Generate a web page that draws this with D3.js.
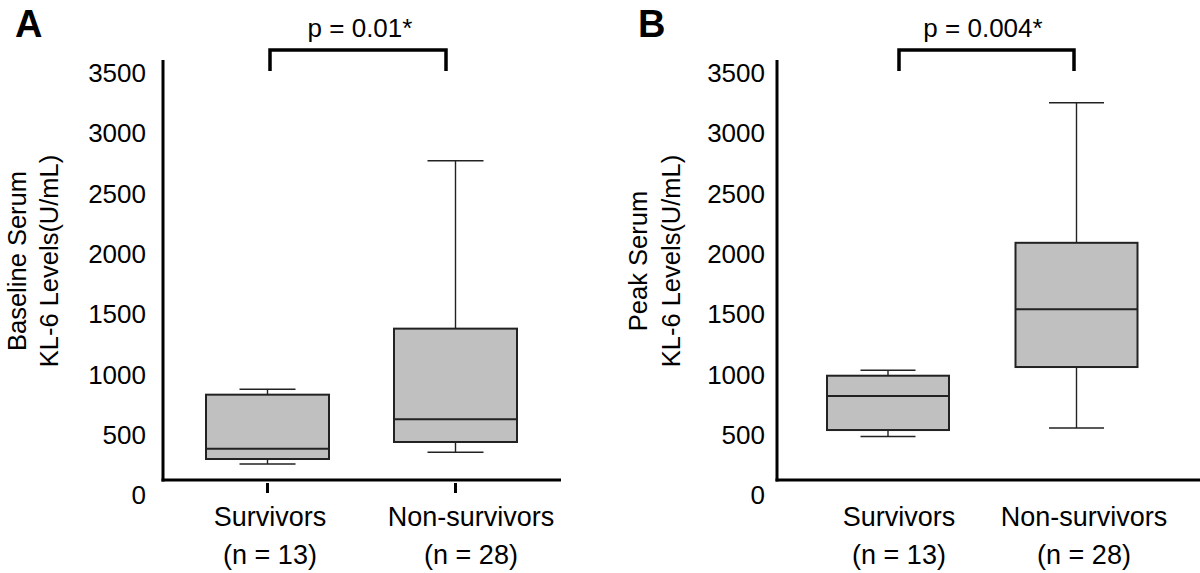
<!DOCTYPE html>
<html>
<head>
<meta charset="utf-8">
<script src="https://cdn.jsdelivr.net/npm/d3@7"></script>
<style>
  html, body { margin: 0; padding: 0; background: #fff; }
  svg { display: block; }
  text { font-family: "Liberation Sans", Arial, Helvetica, sans-serif; fill: #000; }
</style>
</head>
<body>
<svg id="chart" width="1200" height="573"></svg>
<script>
// ---------------- data ----------------
const categories = ["Survivors", "Non-survivors"];
const nLabels = ["(n = 13)", "(n = 28)"];
const yTicks = [0, 500, 1000, 1500, 2000, 2500, 3000, 3500];

// Panel A: baseline serum KL-6 (U/mL)
const baselineMin    = [253, 350];
const baselineQ1     = [294, 435];
const baselineMedian = [379, 623];
const baselineQ3     = [827, 1374];
const baselineMax    = [872, 2765];

// Panel B: peak serum KL-6 (U/mL)
const peakMin    = [480, 551];
const peakQ1     = [534, 1056];
const peakMedian = [816, 1534];
const peakQ3     = [984, 2085];
const peakMax    = [1029, 3245];

const panelLetters = ["A", "B"];
const pValues = ["p = 0.01*", "p = 0.004*"];
const yTitles = [["Baseline Serum", "KL-6 Levels(U/mL)"], ["Peak Serum", "KL-6 Levels(U/mL)"]];

// ---------------- layout ----------------
const svg = d3.select("#chart");
const y = d3.scaleLinear().domain([0, 3500]).range([494.5, 72]);
const frameTop = 60, frameBottom = 480;

const panels = [
  { letter: panelLetters[0], p: pValues[0], title: yTitles[0],
    min: baselineMin, q1: baselineQ1, med: baselineMedian, q3: baselineQ3, max: baselineMax,
    axisX: 163, axisEnd: 561, tickLabelX: 146, range: [267.5, 455.5], boxW: 123, capW: 56,
    bracketOff: [2.5, -9.5], pX: 360, letterX: 15, titleX: [26, 58], labelOff: [2.5, 15.5], ticks: true },
  { letter: panelLetters[1], p: pValues[1], title: yTitles[1],
    min: peakMin, q1: peakQ1, med: peakMedian, q3: peakQ3, max: peakMax,
    axisX: 777, axisEnd: 1200, tickLabelX: 765, range: [888, 1076.5], boxW: 122, capW: 55,
    bracketOff: [11, -2.5], pX: 983, letterX: 638, titleX: [647, 680], labelOff: [11, 7.5], ticks: false }
];

panels.forEach(P => {
  const g = svg.append("g");
  const x = d3.scalePoint().domain(categories).range(P.range);

  // panel letter
  g.append("text").attr("x", P.letterX).attr("y", 37)
    .attr("font-size", 38).attr("font-weight", "bold").text(P.letter);

  // y tick labels via axis
  const ax = g.append("g").attr("transform", `translate(${P.tickLabelX},0)`)
    .call(d3.axisLeft(y).tickValues(yTicks).tickSize(0).tickPadding(0).tickFormat(d3.format("d")));
  ax.select(".domain").remove();
  ax.selectAll("text").attr("font-size", 26).attr("font-family", "'Liberation Sans', Arial, sans-serif")
    .attr("fill", "#000").attr("dy", "0.36em");

  // y title (two lines, rotated)
  P.title.forEach((t, i) => {
    g.append("text")
      .attr("transform", `translate(${P.titleX[i]},261) rotate(-90)`)
      .attr("text-anchor", "middle").attr("font-size", 25.5).text(t);
  });

  // frame axes
  g.append("line").attr("x1", P.axisX).attr("x2", P.axisX)
    .attr("y1", frameTop).attr("y2", frameBottom + 1.5)
    .attr("stroke", "#000").attr("stroke-width", 3);
  g.append("line").attr("x1", P.axisX - 1.5).attr("x2", P.axisEnd)
    .attr("y1", frameBottom).attr("y2", frameBottom)
    .attr("stroke", "#000").attr("stroke-width", 3);

  // x ticks
  if (P.ticks) {
    categories.forEach(c => {
      g.append("line").attr("x1", x(c)).attr("x2", x(c))
        .attr("y1", frameBottom + 3).attr("y2", frameBottom + 13)
        .attr("stroke", "#000").attr("stroke-width", 3);
    });
  }

  // category labels
  categories.forEach((c, i) => {
    g.append("text").attr("x", x(c) + P.labelOff[i]).attr("y", 526)
      .attr("text-anchor", "middle").attr("font-size", 27).text(c);
    g.append("text").attr("x", x(c) + P.labelOff[i]).attr("y", 564)
      .attr("text-anchor", "middle").attr("font-size", 27).text(nLabels[i]);
  });

  // boxes
  categories.forEach((c, i) => {
    const cx = x(c);
    // whiskers
    g.append("line").attr("x1", cx).attr("x2", cx).attr("y1", y(P.max[i])).attr("y2", y(P.q3[i]))
      .attr("stroke", "#222").attr("stroke-width", 1.4);
    g.append("line").attr("x1", cx).attr("x2", cx).attr("y1", y(P.q1[i])).attr("y2", y(P.min[i]))
      .attr("stroke", "#222").attr("stroke-width", 1.4);
    g.append("line").attr("x1", cx - P.capW / 2).attr("x2", cx + P.capW / 2)
      .attr("y1", y(P.max[i])).attr("y2", y(P.max[i])).attr("stroke", "#222").attr("stroke-width", 1.6);
    g.append("line").attr("x1", cx - P.capW / 2).attr("x2", cx + P.capW / 2)
      .attr("y1", y(P.min[i])).attr("y2", y(P.min[i])).attr("stroke", "#222").attr("stroke-width", 1.6);
    // box
    g.append("rect").attr("x", cx - P.boxW / 2).attr("width", P.boxW)
      .attr("y", y(P.q3[i])).attr("height", y(P.q1[i]) - y(P.q3[i]))
      .attr("fill", "#c0c0c0").attr("stroke", "#222").attr("stroke-width", 2);
    g.append("line").attr("x1", cx - P.boxW / 2).attr("x2", cx + P.boxW / 2)
      .attr("y1", y(P.med[i])).attr("y2", y(P.med[i])).attr("stroke", "#222").attr("stroke-width", 2);
  });

  // significance bracket
  const bx1 = x(categories[0]) + P.bracketOff[0];
  const bx2 = x(categories[1]) + P.bracketOff[1];
  g.append("path")
    .attr("d", `M${bx1},71 V50 H${bx2} V71`)
    .attr("fill", "none").attr("stroke", "#000").attr("stroke-width", 3.5);
  g.append("text").attr("x", P.pX).attr("y", 37).attr("text-anchor", "middle")
    .attr("font-size", 26).text(P.p);
});
</script>
</body>
</html>
